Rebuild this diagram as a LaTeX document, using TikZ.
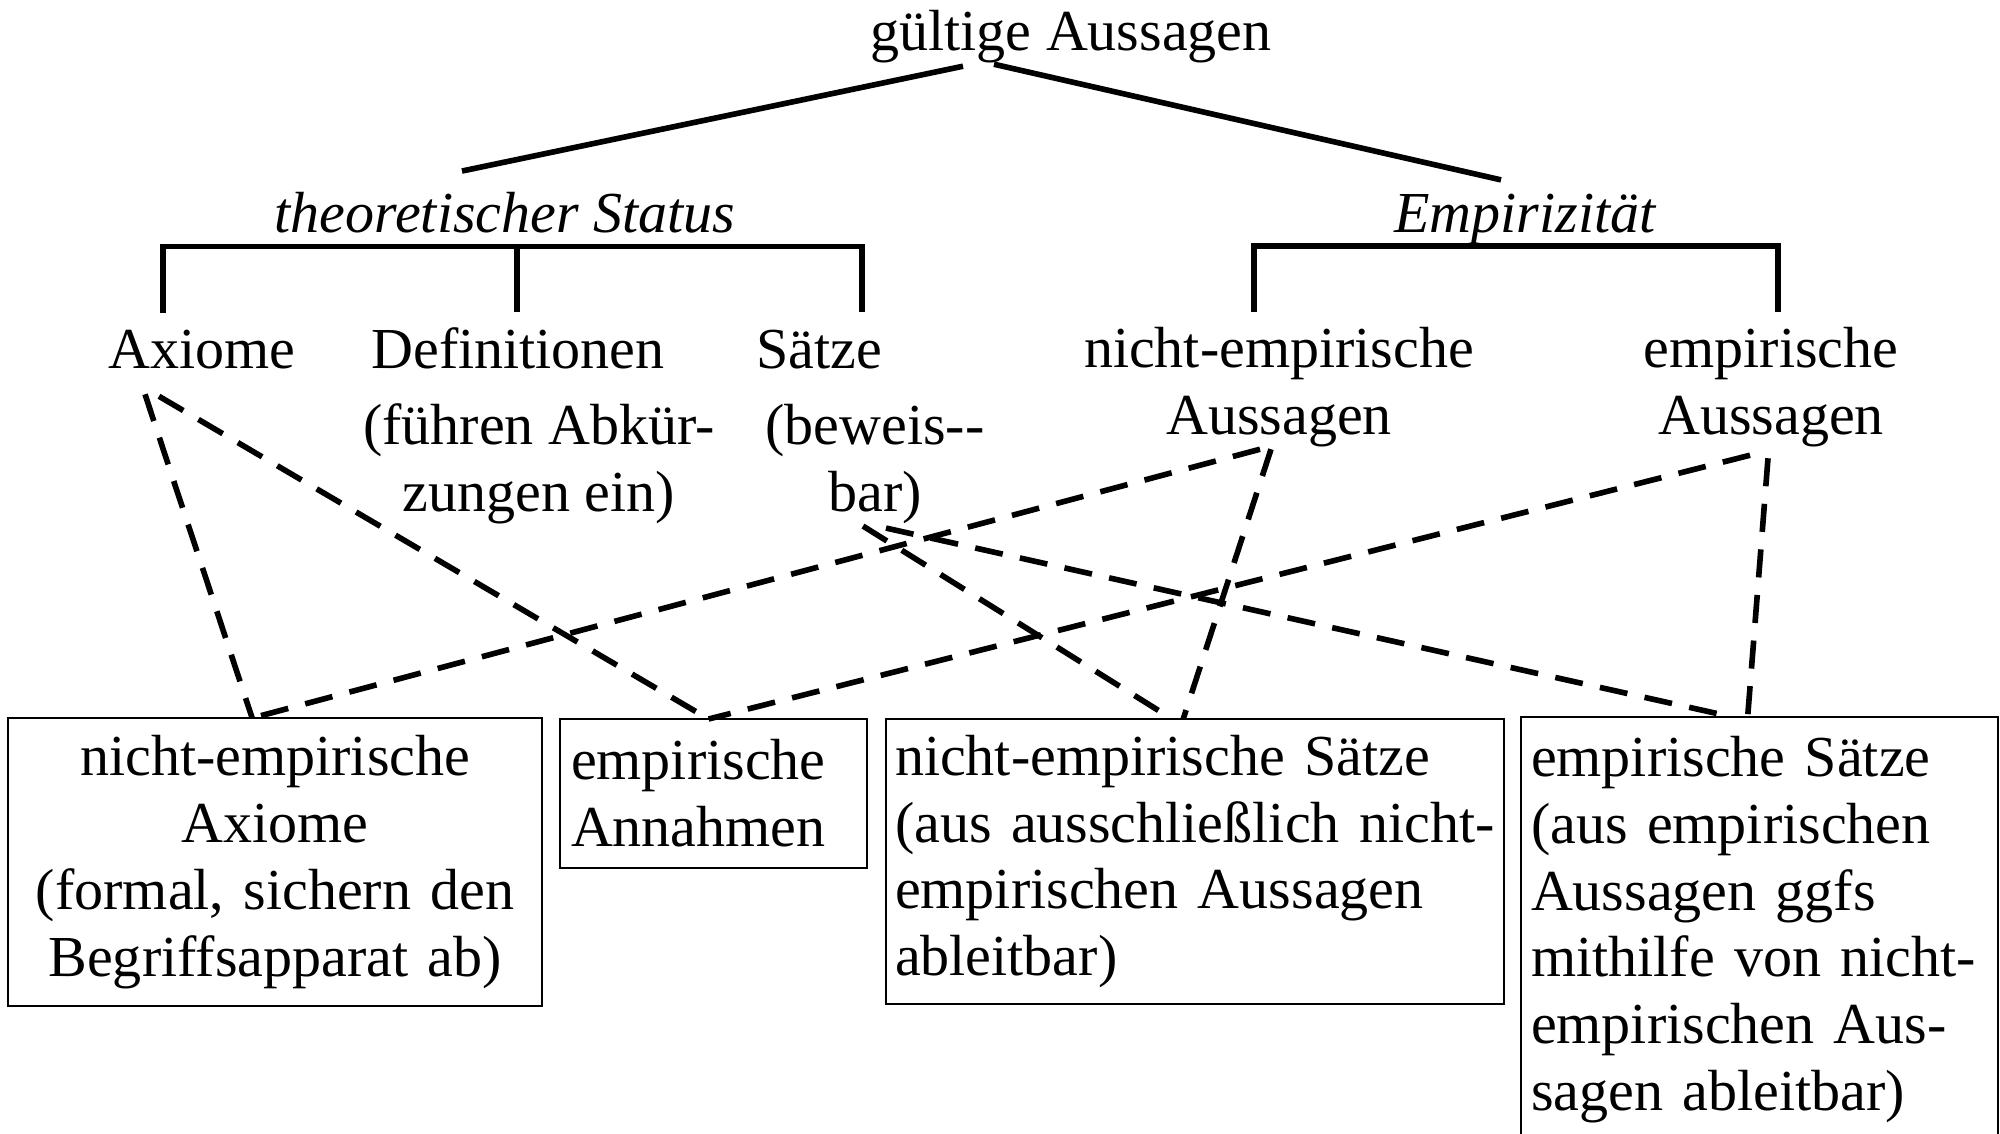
\documentclass[tikz,border=0pt]{standalone}
\usepackage{fontspec}
\setmainfont{Liberation Serif}
\usetikzlibrary{calc}
\tikzset{
    term/.style={
           inner sep=0pt,
           anchor=base,
           align=center,
           font=\fontsize{16.5}{19}\selectfont,
           },
    heading/.style={
           term,
           font=\fontsize{16.5}{19}\selectfont\itshape,
           },
    entry/.style={
           rectangle,
           draw=black, line width=0.6pt,
           anchor=north west,
           inner ysep=0.05cm,
           outer sep=0pt,
           font=\fontsize{16.5}{19}\selectfont,
           },
    tree/.style={line width=1.6pt},
    link/.style={line width=1.6pt, dash pattern=on 8pt off 5pt},
}

\begin{document}
\begin{tikzpicture}[x=0.01cm, y=-0.01cm]
      \useasboundingbox (0,0) rectangle (2000,1133);
      \clip (0,0) rectangle (2000,1133);
      % labels
      \node[term] (top)      at (1071,50)  {gültige Aussagen};
      \node[heading] (theo)  at (505,232)  {theoretischer Status};
      \node[heading] (emp)   at (1525,232) {Empirizität};
      \node[term] (axiome)   at (202,368)  {Axiome};
      \node[term] (defi)     at (518,368)  {Definitionen};
      \node[term] (defnote)  at (539,511)  {(führen Abkür-\\zungen ein)};
      \node[term] (saetze)   at (819,368)  {Sätze};
      \node[term] (satznote) at (875,511)  {(beweis-{}-\\bar)};
      \node[term] (nae)      at (1279,434) {nicht-empirische\\Aussagen};
      \node[term] (eae)      at (1771,434) {empirische\\Aussagen};
      % boxes
      \node[entry, align=center, inner xsep=0.1cm, text width=5.14cm, minimum height=2.88cm]
            (neaxiome) at (8,718) {nicht-empirische\\Axiome\\(formal, sichern den\\Begriffsapparat ab)};
      \node[entry, align=left, inner xsep=0.11cm, text width=2.85cm, minimum height=1.49cm]
            (annahmen) at (560,719) {empirische\\Annahmen};
      \node[entry, align=left, inner xsep=0.09cm, text width=6.0cm, minimum height=2.85cm]
            (nesaetze) at (886,719) {nicht-empirische Sätze\\(aus ausschließlich nicht-\\empirischen Aussagen\\ableitbar)};
      \node[entry, align=left, inner xsep=0.1cm, text width=4.57cm, minimum height=4.25cm]
            (esaetze) at (1521,717) {empirische Sätze\\(aus empirischen\\Aussagen ggfs\\mithilfe von nicht-\\empirischen Aus-\\sagen ableitbar)};
      % tree
      \draw[tree] ($(top.south)+(-108,3)$) -- ($(theo.north)+(-43,-20)$);
      \draw[tree] ($(top.south)+(-77,1)$) -- ($(emp.north)+(-24,-13)$);
      \draw[tree] ($(axiome.north)+(-39,-16)$) |- ($(theo.south)+(0,13)$) -| ($(saetze.north)+(43,-17)$);
      \draw[tree] ($(defi.north)+(-1,-14)$) -- ($(defi.north |- theo.south)+(-1,13)$);
      \draw[tree] ($(nae.north)+(-25,-14)$) |- ($(emp.south)+(0,1)$) -| ($(eae.north)+(7,-14)$);
      % links
      \draw[link] ($(axiome.south)+(-57,25)$) -- ($(neaxiome.north)+(-23,0)$);
      \draw[link] ($(axiome.south)+(-43,27)$) -- ($(annahmen.north)+(-5,0)$);
      \draw[link] ($(nae.south)+(-19,2)$) -- ($(neaxiome.north)+(-23,0)$);
      \draw[link] ($(nae.south)+(-8,2)$) -- ($(nesaetze.north)+(-12,0)$);
      \draw[link] ($(eae.south)+(-21,8)$) -- ($(annahmen.north)+(-5,0)$);
      \draw[link] ($(eae.south)+(-3,11)$) -- ($(esaetze.north)+(-12,0)$);
      \draw[link] ($(satznote.south)+(-12,2)$) -- ($(nesaetze.north)+(-23,0)$);
      \draw[link] ($(satznote.south)+(11,4)$) -- ($(esaetze.north)+(-27,0)$);
\end{tikzpicture}
\end{document}
